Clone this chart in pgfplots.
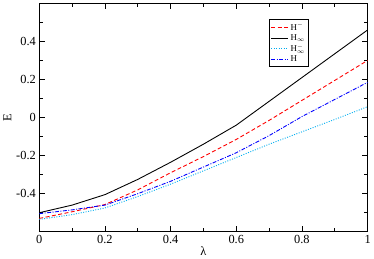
\documentclass[border=0pt]{standalone}
\usepackage{fontspec}
\setmainfont{Liberation Serif}
\usepackage{pgfplots}
\pgfplotsset{compat=1.18}
\begin{document}
\begin{tikzpicture}
\begin{axis}[
  scale only axis, width=332pt, height=231pt,
  xmin=0, xmax=1, ymin=-0.6, ymax=0.6,
  xtick={0,0.2,0.4,0.6,0.8,1}, ytick={-0.4,-0.2,0,0.2,0.4},
  xticklabels={0,0.2,0.4,0.6,0.8,1},
  yticklabels={-0.4,-0.2,0,0.2,0.4},
  minor xtick={0.1,0.3,0.5,0.7,0.9},
  minor ytick={-0.5,-0.3,-0.1,0.1,0.3,0.5},
  extra y ticks={-0.6,0.6}, extra y tick labels={},
  tick align=inside, major tick length=6pt, minor tick length=3.5pt,
  tick style={black, line width=0.6pt},
  axis line style={line width=0.8pt},
  ticklabel style={font=\fontsize{12.5}{14}\selectfont},
  xlabel={λ}, ylabel={E},
  label style={font=\fontsize{12.5}{14}\selectfont},
  xlabel style={yshift=4pt},
  ylabel style={yshift=-2pt},
  legend style={at={(0.70,0.93)}, anchor=north west, font=\fontsize{9}{10}\selectfont,
    draw=black, line width=0.5pt, inner sep=1.5pt, row sep=-1.5pt},
  legend cell align=left,
  legend image post style={line width=0.9pt},
]
\addplot[red, line width=0.9pt, dash pattern=on 4pt off 2.5pt] coordinates {
(0,-0.53) (0.1,-0.495) (0.2,-0.457) (0.3,-0.38) (0.4,-0.29) (0.5,-0.205) (0.6,-0.115) (0.7,-0.015) (0.8,0.09) (0.9,0.195) (1.0,0.30)};
\addlegendentry{H$^{-}$}
\addplot[black, line width=0.9pt] coordinates {
(0,-0.50) (0.1,-0.46) (0.2,-0.405) (0.3,-0.325) (0.4,-0.235) (0.5,-0.14) (0.6,-0.04) (0.7,0.085) (0.8,0.21) (0.9,0.335) (1.0,0.46)};
\addlegendentry{H$_{\infty}$}
\addplot[cyan, line width=0.9pt, dash pattern=on 1pt off 1.5pt] coordinates {
(0,-0.535) (0.1,-0.51) (0.2,-0.475) (0.3,-0.415) (0.4,-0.35) (0.5,-0.28) (0.6,-0.21) (0.7,-0.14) (0.8,-0.075) (0.9,-0.01) (1.0,0.057)};
\addlegendentry{H$^{-}_{\infty}$}
\addplot[blue, line width=0.9pt, dash pattern=on 4pt off 1.5pt on 1pt off 1.5pt] coordinates {
(0,-0.505) (0.1,-0.485) (0.2,-0.46) (0.3,-0.40) (0.4,-0.335) (0.5,-0.26) (0.6,-0.185) (0.7,-0.095) (0.8,0.005) (0.9,0.095) (1.0,0.185)};
\addlegendentry{H}
\end{axis}
\end{tikzpicture}
\end{document}
